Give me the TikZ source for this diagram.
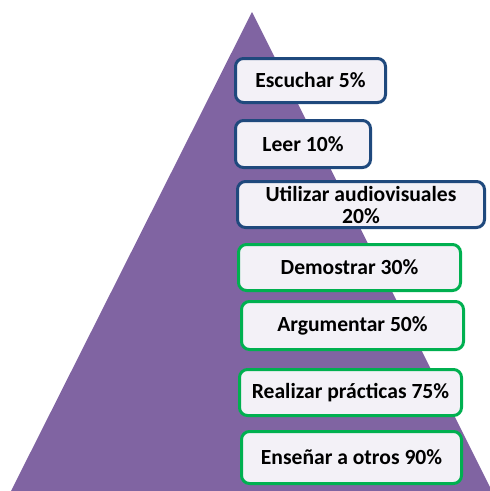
\documentclass[tikz,border=0pt]{standalone}
\usepackage{fontspec}
\setmainfont{Carlito}
\usepackage{xcolor}
\definecolor{pyrpurple}{RGB}{128,100,162}
\definecolor{pyrblue}{RGB}{31,73,125}
\definecolor{pyrgreen}{RGB}{0,176,80}
\definecolor{pyrfill}{RGB}{243,241,247}
\usetikzlibrary{positioning}

\begin{document}
\begin{tikzpicture}[
          x=1pt, y=-1pt,
          level/.style={
              fill=pyrfill,
              rounded corners=8pt,
              line width=3pt,
              inner sep=0pt,
              font=\fontsize{21.6}{22}\selectfont\bfseries,
              align=center
            },
          bluebox/.style={level, draw=pyrblue},
          greenbox/.style={level, draw=pyrgreen}
        ]
        \useasboundingbox (0,0) rectangle (490,491);
        % pyramid
        \coordinate (apex) at (252,12);
        \coordinate (baseL) at (11,491);
        \coordinate (baseR) at (492,491);
        \fill[pyrpurple] (apex) -- (baseR) -- (baseL) -- cycle;

        \node[bluebox, minimum width=150, minimum height=44] (pyr_escuchar) at (310.5,80.5) {Escuchar 5\%};
        \node[bluebox, minimum width=135, minimum height=47] (pyr_leer) at (303,144) {Leer 10\%};
        \node[bluebox, minimum width=247, minimum height=46] (pyr_audio) at (361,204.5) {Utilizar audiovisuales\\20\%};
        \node[greenbox, minimum width=222, minimum height=46] (pyr_demostrar) at (349.5,267.5) {Demostrar 30\%};
        \node[greenbox, minimum width=222, minimum height=48] (pyr_argumentar) at (352.5,325.5) {Argumentar 50\%};
        \node[greenbox, minimum width=222, minimum height=46] (pyr_practicas) at (350.5,392.5) {Realizar prácticas 75\%};
        \node[greenbox, minimum width=220, minimum height=52] (pyr_ensenar) at (351.5,457.5) {Enseñar a otros 90\%};
      \end{tikzpicture}
\end{document}
